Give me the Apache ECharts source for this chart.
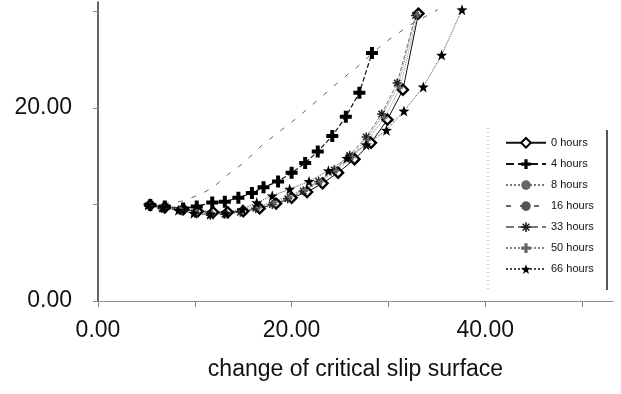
<!DOCTYPE html>
<html><head><meta charset="utf-8">
<script src="https://cdn.jsdelivr.net/npm/echarts@6/dist/echarts.min.js"></script>
<style>html,body{margin:0;padding:0;background:#fff}#c{width:621px;height:394px}</style>
</head><body><div id="c"></div>
<script>
// series values [x, y]
const h0 = [[5.4,9.95],[6.9,9.7],[8.8,9.5],[10.3,9.3],[11.9,9.2],[13.4,9.2],[15.0,9.3],[16.7,9.6],[18.4,10.1],[20.0,10.7],[21.6,11.3],[23.2,12.2],[24.8,13.3],[26.5,14.7],[28.2,16.4],[29.9,18.8],[31.5,21.9],[33.1,29.8]];
const h4 = [[5.4,9.95],[6.9,9.8],[8.8,9.6],[10.2,9.8],[11.8,10.2],[13.1,10.3],[14.5,10.7],[15.9,11.2],[17.1,11.8],[18.6,12.4],[20.0,13.3],[21.4,14.3],[22.7,15.5],[24.2,17.1],[25.6,19.1],[27.0,21.6],[28.3,25.7]];
const h8 = [[5.3,9.9],[6.8,9.8],[8.6,9.6],[10.1,9.4],[11.7,9.3],[13.2,9.3],[14.8,9.5],[16.5,9.8],[18.1,10.3],[19.7,10.9],[21.3,11.6],[22.9,12.5],[24.5,13.6],[26.1,15.0],[27.8,16.8],[29.4,19.3],[31.0,22.3],[32.9,29.9]];
const h16 = [[5.4,9.95],[8.5,10.3],[10.5,11.0],[11.9,11.8],[13.4,13.1],[14.9,14.2],[17.0,16.2],[19.3,18.0],[20.8,19.2],[22.2,20.4],[25.2,23.0],[26.7,24.2],[29.5,26.7],[32.2,28.6],[35.1,30.2]];
const h33 = [[5.2,9.9],[6.6,9.6],[8.4,9.4],[10.0,9.1],[11.6,8.9],[13.1,9.0],[14.7,9.2],[16.3,9.6],[18.0,10.0],[19.6,10.6],[21.2,11.4],[22.8,12.4],[24.4,13.6],[26.0,15.1],[27.7,17.0],[29.3,19.4],[30.9,22.6],[32.8,29.6]];
const h50 = [[5.3,9.95],[6.7,9.7],[8.5,9.5],[10.2,9.2],[11.8,9.1],[13.3,9.1],[14.9,9.3],[16.6,9.7],[18.2,10.2],[19.8,10.8],[21.4,11.5],[23.0,12.4],[24.6,13.5],[26.3,14.9],[27.9,16.7],[29.6,19.0],[31.2,22.1],[33.0,29.7]];
const h66 = [[5.2,9.95],[6.7,9.7],[8.3,9.4],[9.9,9.1],[11.6,9.0],[13.2,9.1],[14.9,9.5],[16.4,10.2],[18.0,10.9],[19.8,11.6],[21.8,12.4],[23.8,13.5],[25.7,14.8],[27.7,16.2],[29.8,17.7],[31.6,19.7],[33.6,22.2],[35.5,25.5],[37.6,30.2]];
const seriesNames = ['0 hours','4 hours','8 hours','16 hours','33 hours','50 hours','66 hours'];
const xTickLabels = [0, 20, 40];
const yTickLabels = [0, 20];

const plus = 'path://M4,0H8V4H12V8H8V12H4V8H0V4H4Z';
const aster = 'path://M5,0H7V3.6L9.5,1.1L10.9,2.5L8.4,5H12V7H8.4L10.9,9.5L9.5,10.9L7,8.4V12H5V8.4L2.5,10.9L1.1,9.5L3.6,7H0V5H3.6L1.1,2.5L2.5,1.1L5,3.6Z';
const star = 'path://M6,0L7.5,4.3L12,4.4L8.4,7.2L9.7,11.6L6,9L2.3,11.6L3.6,7.2L0,4.4L4.5,4.3Z';
const font = '"Liberation Sans", Arial, sans-serif';

const chart = echarts.init(document.getElementById('c'), null, {renderer:'canvas'});
chart.setOption({
  animation:false,
  backgroundColor:'#fff',
  grid:{left:98, right:8, top:2, bottom:93},
  xAxis:{type:'value', min:0, max:53.2, interval:10,
    axisLine:{onZero:false, lineStyle:{color:'#777', type:'dotted', width:1}},
    axisTick:{show:true, length:6, lineStyle:{color:'#888'}},
    splitLine:{show:false},
    axisLabel:{fontFamily:font, fontSize:23, color:'#111', margin:18, showMaxLabel:false,
      formatter:v=> xTickLabels.includes(v) ? v.toFixed(2) : ''},
    name:'change of critical slip surface', nameLocation:'middle', nameGap:57,
    nameTextStyle:{fontFamily:font, fontSize:23, color:'#111'}},
  yAxis:{type:'value', min:0, max:31, interval:10,
    axisLine:{show:true, onZero:false, lineStyle:{color:'#333', width:1.5}},
    axisTick:{show:true, length:5, lineStyle:{color:'#888'}},
    splitLine:{show:false},
    axisLabel:{fontFamily:font, fontSize:23, color:'#111', margin:26, showMaxLabel:false,
      formatter:v=> yTickLabels.includes(v) ? v.toFixed(2) : ''}},
  legend:{orient:'vertical', left:500, top:132, itemWidth:40, itemHeight:12, itemGap:10,
    textStyle:{fontFamily:font, fontSize:11, color:'#111'}, data:seriesNames},
  graphic:[
    {type:'line', shape:{x1:488,y1:128,x2:488,y2:290}, style:{stroke:'#999', lineDash:[1,3], lineWidth:1}},
    {type:'line', shape:{x1:607,y1:130,x2:607,y2:290}, style:{stroke:'#222', lineWidth:1.5}}
  ],
  series:[
    {name:seriesNames[0], type:'line', data:h0, symbol:'diamond', symbolSize:10,
      itemStyle:{color:'#fff', borderColor:'#000', borderWidth:2.4}, lineStyle:{color:'#111', width:1}},
    {name:seriesNames[1], type:'line', data:h4, symbol:plus, symbolSize:12,
      itemStyle:{color:'#000'}, lineStyle:{color:'#111', width:1.2, type:'dashed'}},
    {name:seriesNames[2], type:'line', data:h8, symbol:'circle', symbolSize:3,
      itemStyle:{color:'#666'}, lineStyle:{color:'#777', width:1, type:'dotted'}},
    {name:seriesNames[3], type:'line', data:h16, symbol:'circle', symbolSize:2, showSymbol:false,
      itemStyle:{color:'#555'}, lineStyle:{color:'#666', width:1, type:[5,9]}},
    {name:seriesNames[4], type:'line', data:h33, symbol:aster, symbolSize:9,
      itemStyle:{color:'#222'}, lineStyle:{color:'#777', width:1, type:'dashed'}},
    {name:seriesNames[5], type:'line', data:h50, symbol:plus, symbolSize:6,
      itemStyle:{color:'#666'}, lineStyle:{color:'#888', width:1, type:'dotted'}},
    {name:seriesNames[6], type:'line', data:h66, symbol:star, symbolSize:11,
      itemStyle:{color:'#000'}, lineStyle:{color:'#444', width:1, type:'dotted'}}
  ]
});
</script></body></html>
